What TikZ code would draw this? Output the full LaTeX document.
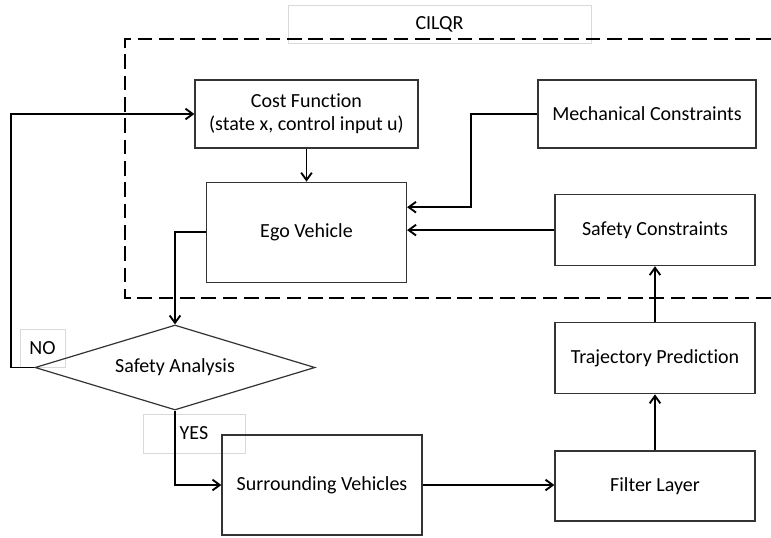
\documentclass[tikz,border=0pt]{standalone}
\usepackage{fontspec}
\setmainfont{Carlito}[Ligatures=NoCommon]
\usetikzlibrary{shapes.geometric,arrows.meta,positioning}

\begin{document}
\begin{tikzpicture}[
    x=0.75pt, y=-0.75pt,
    node distance=42pt,
    font=\fontsize{15}{17.5}\selectfont,
    block/.style={rectangle, draw=black!80, line width=0.9pt, minimum width=150pt, text centered, align=center, inner sep=2pt},
    decision/.style={diamond, draw=black!80, line width=0.9pt, minimum width=210pt, minimum height=63.75pt, aspect=3.3, inner sep=0pt},
    tag/.style={rectangle, draw=black!15, line width=0.6pt, inner sep=0pt},
    arrow/.style={-{Straight Barb[length=5.5pt,width=8pt]}, line width=1.4pt},
    frame/.style={dash pattern=on 11pt off 5pt, line width=1.8pt}
]
    \fill[white] (0,0) rectangle (771,537);
    \useasboundingbox (0,0) rectangle (771,537);

    % Labels
    \node[tag, minimum width=227.25pt, minimum height=28.5pt, text depth=1pt] (cilqr) at (439.5,24) {CILQR};
    \node[tag, minimum width=33.75pt, minimum height=28.5pt] (no) at (42.5,348) {NO};
    \node[tag, minimum width=76.5pt, minimum height=29.25pt] (yes) at (194,433.5) {YES};

    % CILQR frame
    \draw[frame] (771,39) -- (125,39) -- (125,298) -- (771,298);

    % Optimisation
    \node[block, minimum width=167.25pt, minimum height=51pt] (cost) at (306.5,114) {Cost Function\\(state x, control input u)};
    \node[block, minimum height=75pt, below=24.75pt of cost] (ego) {Ego Vehicle};
    \node[block, minimum width=163.5pt, minimum height=51pt] (mech) at (647,114) {Mechanical Constraints};

    % Perception
    \node[block, minimum height=52.5pt] (filter) at (655,486) {Filter Layer};
    \node[block, minimum height=53.25pt, above=of filter] (traj) {Trajectory Prediction};
    \node[block, minimum height=53.25pt, above=of traj] (safecon) {Safety Constraints};
    \node[block, minimum height=75pt] (surr) at (322,485) {Surrounding Vehicles};

    % Check
    \node[decision] (check) at (175,367.5) {Safety Analysis};

    % Arrows
    \draw[arrow] (cost) -- (ego);
    \draw[arrow] (mech.west) -- ++(-66,0) |- ([yshift=18.75pt]ego.east);
    \draw[arrow] (safecon.west) -- (safecon.west -| ego.east);
    \draw[arrow] (ego.west) -| (check.north);
    \draw[arrow] (check.west) -- ++(-23,0) |- (cost.west);
    \draw[arrow] (check.south) |- (surr.west);
    \draw[arrow] (surr.east) -- (surr.east -| filter.west);
    \draw[arrow] (filter) -- (traj);
    \draw[arrow] (traj) -- (safecon);
\end{tikzpicture}
\end{document}
